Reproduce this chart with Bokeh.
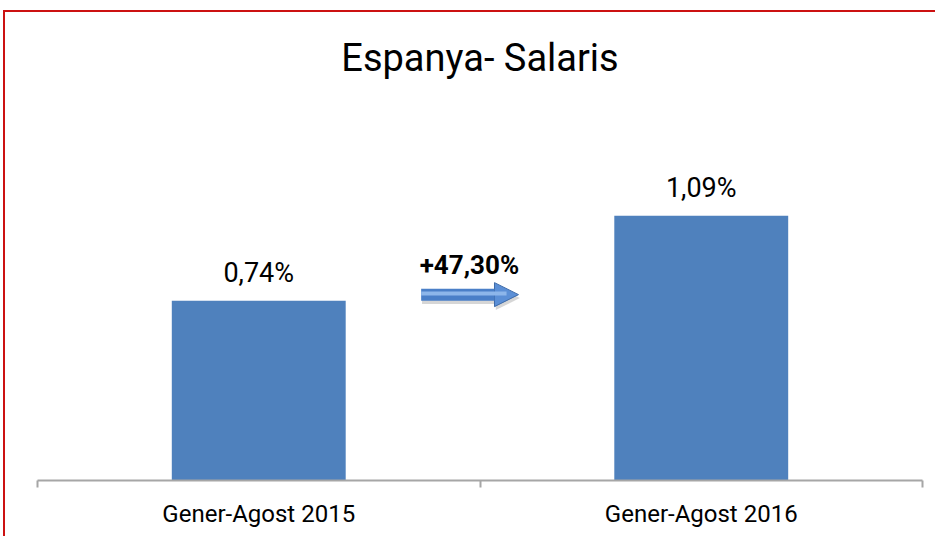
from bokeh.plotting import figure
from bokeh.models import Range1d, FixedTicker, Arrow, NormalHead, ColumnDataSource
from bokeh.core.properties import value
from bokeh.embed import file_html
from bokeh.resources import INLINE

categories = ["Gener-Agost 2015", "Gener-Agost 2016"]
values = [0.74, 1.09]
title_text = "Espanya- Salaris"

BAR_COLOR = "#4f81bd"
FONT = "Roboto"

positions = [i + 0.5 for i in range(len(categories))]
labels = [("%.2f" % v).replace(".", ",") + "%" for v in values]
change = (values[1] / values[0] - 1) * 100
change_label = "+" + ("%.2f" % change).replace(".", ",") + "%"

p = figure(width=932, height=526, output_backend="svg", toolbar_location=None,
           x_range=Range1d(0, len(categories)), y_range=Range1d(0, 1.564),
           min_border_left=32, min_border_right=15, min_border_top=88, min_border_bottom=58)
p.title.text = title_text
p.title.align = "center"
p.title.text_font = FONT
p.title.text_font_style = "normal"
p.title.text_font_size = "38px"
p.title.text_color = "#000000"
p.title.standoff = 41

p.styles = {"margin-left": "3px", "margin-top": "10px",
            "border-top": "2px solid #cc1111", "border-left": "2px solid #cc1111"}

p.grid.visible = False
p.yaxis.visible = False
p.outline_line_color = None
p.background_fill_color = "white"
p.border_fill_color = "white"

src = ColumnDataSource(dict(x=positions, top=values, label=labels))
p.vbar(x="x", top="top", width=0.393, bottom=0, source=src, fill_color=BAR_COLOR, line_color=None)
p.text(x="x", y="top", text="label", source=src, text_align="center", text_baseline="middle",
       y_offset=-28, text_font=value(FONT), text_font_size="27px", text_color="#000000")

# change annotation
mid_x = (positions[0] + positions[1]) / 2
arrow_y = values[0] + 0.025
p.text(x=[mid_x - 0.024], y=[values[0] + 0.148], text=[change_label], text_align="center",
       text_baseline="middle", text_font=value(FONT), text_font_style="bold",
       text_font_size="26px", text_color="#000000")
shadow = Arrow(end=NormalHead(size=24, fill_color="#bbbbbb", line_color=None, fill_alpha=0.6),
               x_start=mid_x - 0.131, x_end=mid_x + 0.090, y_start=arrow_y - 0.014, y_end=arrow_y - 0.014,
               line_color="#bbbbbb", line_alpha=0.6, line_width=12)
p.add_layout(shadow)
arrow = Arrow(end=NormalHead(size=24, fill_color="#5b8fd6", line_color="#3d6aa8", line_width=1),
              x_start=mid_x - 0.133, x_end=mid_x + 0.087, y_start=arrow_y, y_end=arrow_y,
              line_color="#4a7fc8", line_width=12)
p.add_layout(arrow)
highlight = Arrow(end=None, x_start=mid_x - 0.133, x_end=mid_x + 0.06,
                  y_start=arrow_y + 0.005, y_end=arrow_y + 0.005,
                  line_color="#8db6ea", line_width=4)
p.add_layout(highlight)

ax = p.xaxis[0]
ax.ticker = FixedTicker(ticks=positions, minor_ticks=[0, 1, 2])
ax.major_label_overrides = {positions[i]: categories[i] for i in range(len(categories))}
ax.major_tick_out = 0
ax.major_tick_in = 0
ax.minor_tick_out = 7
ax.minor_tick_in = 0
ax.minor_tick_line_color = "#a6a6a6"
ax.minor_tick_line_width = 2
ax.axis_line_color = "#a6a6a6"
ax.axis_line_width = 2
ax.major_label_standoff = 12
ax.major_label_text_font = FONT
ax.major_label_text_font_size = "24px"
ax.major_label_text_color = "#000000"

open("out.html", "w").write(file_html(p, INLINE))
